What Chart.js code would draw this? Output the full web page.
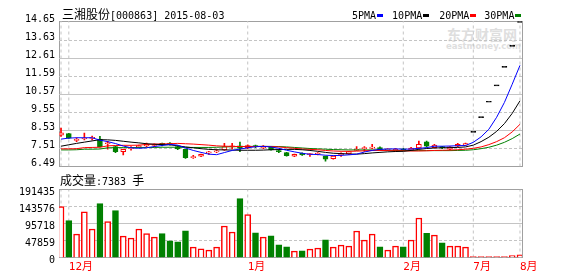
<!DOCTYPE html>
<html><head><meta charset="utf-8">
<script src="https://cdn.jsdelivr.net/npm/chart.js@4/dist/chart.umd.min.js"></script>
<style>
html,body{margin:0;padding:0;background:#fff;width:578px;height:276px;overflow:hidden;position:relative;}
.abs{position:absolute;white-space:nowrap;line-height:12px;}
.cjk{font-family:'Noto Sans CJK SC';font-size:12px;}
.mono{font-family:'DejaVu Sans Mono';font-size:10px;}
canvas{position:absolute;left:0;top:0;}
.sw{display:inline-block;width:6px;height:3px;vertical-align:middle;margin-left:1px;margin-right:10px;}
</style></head><body>
<div class="abs" style="left:447px;top:27px;font:bold 14px 'Noto Sans CJK SC';color:#dedede;line-height:14px;">东方财富网</div>
<div class="abs" style="left:446px;top:42px;font:bold 8.5px 'DejaVu Sans';color:#dedede;line-height:9px;">eastmoney.com</div>
<canvas id="price" width="578" height="276"></canvas>
<canvas id="vol" width="578" height="276"></canvas>
<div class="abs" style="left:62px;top:8px;"><span class="cjk">三湘股份</span><span class="mono">[000863] 2015-08-03</span></div>
<div class="abs" style="left:352px;top:8px;">
<span class="mono">5PMA</span><span class="sw" style="background:#0000ff;margin-right:9px"></span><span class="mono">10PMA</span><span class="sw" style="background:#000"></span><span class="mono">20PMA</span><span class="sw" style="background:#ff0000;margin-right:8px"></span><span class="mono">30PMA</span><span class="sw" style="background:#008000"></span>
</div>
<div class="abs" style="left:60px;top:174px;"><span class="cjk">成交量</span><span class="mono">:7383 </span><span class="cjk">手</span></div>
<script>
const priceTicks = [6.49, 7.51, 8.53, 9.55, 10.57, 11.59, 12.61, 13.63, 14.65];
const volumeTicks = [0, 47859, 95718, 143576, 191435];
const monthTickIdx = [0, 1, 24, 44, 53, 59];
const monthTickLabels = ['', '12月', '1月', '2月', '7月', '8月'];

const openP = [8.27,8.35,7.97,8.05,8.08,8.05,7.78,7.62,7.33,7.50,
7.62,7.66,7.68,7.76,7.80,7.62,7.47,6.99,7.08,7.26,
7.32,7.43,7.60,7.66,7.56,7.66,7.55,7.58,7.35,7.28,
7.08,7.24,7.16,7.20,7.08,6.93,7.16,7.20,7.40,7.50,
7.53,7.56,7.42,7.37,7.48,7.41,7.54,7.89,7.56,7.58,
7.47,7.64,7.70,8.42,9.26,10.13,11.06,12.11,13.30,14.65];
const highP = [8.67,8.37,8.12,8.39,8.22,8.20,7.92,7.65,7.48,7.62,
7.70,7.82,7.78,7.82,7.84,7.66,7.47,7.12,7.20,7.35,
7.45,7.81,7.80,7.88,7.72,7.70,7.68,7.62,7.45,7.30,
7.20,7.26,7.24,7.28,7.08,7.10,7.26,7.35,7.62,7.62,
7.75,7.60,7.50,7.50,7.52,7.58,7.93,7.93,7.74,7.64,
7.62,7.80,7.82,8.42,9.26,10.13,11.06,12.11,13.30,14.65];
const lowP = [8.20,8.08,7.90,8.00,8.00,7.60,7.47,7.28,7.14,7.42,
7.55,7.62,7.60,7.66,7.70,7.45,6.95,6.95,7.05,7.18,
7.28,7.40,7.48,7.33,7.50,7.55,7.50,7.42,7.28,7.08,
7.05,7.12,7.06,7.15,6.79,6.90,7.06,7.18,7.38,7.35,
7.50,7.43,7.38,7.35,7.38,7.39,7.50,7.58,7.54,7.50,
7.45,7.62,7.68,8.42,9.26,10.13,11.06,12.11,13.30,14.65];
const closeP = [8.40,8.10,8.00,8.08,8.11,7.62,7.82,7.33,7.47,7.53,
7.66,7.75,7.72,7.74,7.76,7.48,6.99,7.01,7.18,7.29,
7.34,7.62,7.62,7.52,7.68,7.62,7.58,7.43,7.33,7.10,
7.18,7.14,7.18,7.23,6.91,7.08,7.18,7.33,7.43,7.52,
7.56,7.44,7.45,7.48,7.40,7.54,7.74,7.64,7.70,7.56,
7.60,7.75,7.79,8.42,9.26,10.13,11.06,12.11,13.30,14.65];

const ma5 = [8.04,8.10,8.12,8.12,8.12,7.98,7.90,7.79,7.65,7.55,
7.52,7.55,7.62,7.68,7.74,7.70,7.54,7.40,7.29,7.19,
7.16,7.28,7.40,7.48,7.55,7.61,7.63,7.60,7.52,7.41,
7.32,7.24,7.18,7.17,7.13,7.11,7.12,7.15,7.19,7.31,
7.40,7.46,7.48,7.49,7.47,7.48,7.52,7.56,7.64,7.64,
7.65,7.67,7.68,7.86,8.17,8.60,9.28,10.12,11.15,12.22];
const ma10 = [7.64,7.72,7.80,7.87,7.94,8.01,8.00,7.97,7.92,7.87,
7.83,7.78,7.75,7.73,7.72,7.66,7.60,7.55,7.50,7.46,
7.44,7.43,7.42,7.41,7.41,7.41,7.42,7.44,7.45,7.46,
7.46,7.44,7.40,7.35,7.29,7.24,7.22,7.20,7.19,7.22,
7.26,7.29,7.32,7.34,7.35,7.40,7.46,7.51,7.54,7.55,
7.56,7.57,7.60,7.70,7.90,8.15,8.48,8.92,9.50,10.21];
const ma20 = [7.49,7.49,7.50,7.56,7.57,7.58,7.66,7.68,7.69,7.69,
7.70,7.74,7.76,7.77,7.78,7.80,7.78,7.76,7.73,7.70,
7.66,7.64,7.63,7.62,7.62,7.62,7.63,7.62,7.60,7.56,
7.52,7.48,7.46,7.44,7.40,7.37,7.35,7.35,7.36,7.38,
7.40,7.40,7.39,7.38,7.38,7.37,7.37,7.38,7.40,7.41,
7.42,7.44,7.47,7.52,7.60,7.73,7.90,8.12,8.45,8.88];
const ma30 = [7.43,7.43,7.44,7.47,7.47,7.48,7.55,7.56,7.56,7.56,
7.57,7.57,7.57,7.58,7.58,7.58,7.57,7.57,7.57,7.57,
7.58,7.60,7.61,7.62,7.63,7.63,7.63,7.63,7.62,7.60,
7.57,7.54,7.51,7.49,7.47,7.45,7.44,7.43,7.43,7.43,
7.43,7.42,7.41,7.40,7.39,7.39,7.39,7.39,7.39,7.39,
7.39,7.40,7.41,7.44,7.50,7.58,7.70,7.86,8.07,8.33];

const volume = [143300,103700,66000,128300,80200,151800,100900,132000,60400,54700,
80200,67000,57500,67000,47200,44300,75400,29200,24500,20700,
29200,88600,71700,166000,120700,69800,57500,61300,35800,30200,
17900,18900,23600,26400,50000,29200,34900,32100,74500,49000,
66000,30200,20700,32100,30200,49000,111300,67900,63200,41500,
32100,32100,29200,1500,1200,1100,1300,1600,5600,7383];

const RED = '#ff0000', GREEN = '#008000', BORDER = '#a0a0a0', GRID = '#c4c4c4';
const n = closeP.length;
const idx = [...Array(n).keys()];
const isUp = i => closeP[i] >= openP[i];
const onePrice = i => highP[i] === lowP[i];
const XMIN = -0.26, XMAX = n - 1 + 0.26;
const PMIN = 6.49, PMAX = 14.735;
const VMIN = 0, VMAX = 191435;

// guide lines (horizontal value levels and month separators), drawn through the chart's scales
const hGuides = (ticks, solidParity) => ticks.slice(1, -1).map((v, k) => ({
  type: 'line', data: [{x: XMIN, y: v}, {x: XMAX, y: v}],
  borderColor: GRID, borderWidth: 1, borderDash: (k % 2 === solidParity) ? [] : [3, 2],
  pointRadius: 0, order: 20
}));
const vGuides = (lo, hi) => monthTickIdx.map(m => ({
  type: 'line', data: [{x: m, y: lo}, {x: m, y: hi}],
  borderColor: GRID, borderWidth: 1, borderDash: [3, 3], pointRadius: 0, order: 21
}));

const xAxisBase = (showLabels, h) => ({
  type: 'linear', position: 'bottom', min: XMIN, max: XMAX, offset: false,
  afterBuildTicks: s => { s.ticks = monthTickIdx.map(v => ({value: v})); },
  afterFit: s => { s.height = h; },
  ticks: {
    display: showLabels, autoSkip: false, maxRotation: 0, align: 'start', padding: 3,
    color: RED, font: {family: "'DejaVu Sans Mono', 'Noto Sans CJK SC'", size: 11},
    callback: v => { const k = monthTickIdx.indexOf(v); return k >= 0 ? monthTickLabels[k] : ''; }
  },
  grid: { display: false, drawTicks: false, offset: false },
  border: { display: true, color: BORDER }
});
const makeTopAxis = () => ({
  type: 'linear', position: 'top', min: XMIN, max: XMAX, offset: false,
  afterFit: s => { s.height = 0; },
  ticks: { display: false }, grid: { display: false, drawTicks: false },
  border: { display: true, color: BORDER }
});
const makeRightAxis = () => ({
  type: 'linear', position: 'right', min: 0, max: 1,
  afterFit: s => { s.width = 0; },
  ticks: { display: false }, grid: { display: false, drawTicks: false },
  border: { display: true, color: BORDER }
});
const lineDs = (label, arr, color, order) => ({
  type: 'line', label, data: arr.map((v, i) => ({x: i, y: v})),
  borderColor: color, borderWidth: 1, pointRadius: 0, tension: 0, order
});

new Chart(document.getElementById('price'), {
  type: 'bar',
  data: {
    datasets: [
      lineDs('5PMA', ma5, '#0000ff', 0),
      lineDs('10PMA', ma10, '#000000', 1),
      lineDs('20PMA', ma20, RED, 2),
      lineDs('30PMA', ma30, GREEN, 3),
      {
        label: 'body', order: 5, grouped: false, barThickness: 5, minBarLength: 1,
        data: idx.map(i => ({x: i, y: [openP[i], closeP[i]]})),
        backgroundColor: idx.map(i => onePrice(i) ? '#000' : (isUp(i) ? '#ffffff' : GREEN)),
        borderColor: idx.map(i => onePrice(i) ? '#000' : (isUp(i) ? RED : GREEN)),
        borderWidth: 1, borderSkipped: false
      },
      {
        label: 'wick', order: 6, grouped: false, barThickness: 1,
        data: idx.filter(i => !onePrice(i)).map(i => ({x: i, y: [lowP[i], highP[i]]})),
        backgroundColor: idx.filter(i => !onePrice(i)).map(i => isUp(i) ? RED : GREEN), borderWidth: 0
      },
      ...hGuides(priceTicks, 1),
      ...vGuides(PMIN, PMAX)
    ]
  },
  options: {
    responsive: false, animation: false, devicePixelRatio: 1,
    layout: { padding: {left: 0, top: 21, right: 56, bottom: 109.5} },
    plugins: { legend: {display: false}, tooltip: {enabled: false} },
    scales: {
      x: xAxisBase(false, 0),
      xTop: makeTopAxis(),
      y: {
        type: 'linear', position: 'left', min: PMIN, max: PMAX,
        afterBuildTicks: s => { s.ticks = priceTicks.map(v => ({value: v})); },
        afterFit: s => { s.width = 59; },
        ticks: { font: {family: 'DejaVu Sans Mono', size: 10}, color: '#000', padding: 4, labelOffset: -3, callback: v => v.toFixed(2) },
        grid: { display: false, drawTicks: false },
        border: { display: true, color: BORDER }
      },
      yRight: makeRightAxis()
    }
  }
});

new Chart(document.getElementById('vol'), {
  type: 'bar',
  data: {
    datasets: [
      {
        label: 'volume', order: 1, grouped: false, barThickness: 6, minBarLength: 1,
        data: idx.map(i => ({x: i, y: volume[i]})),
        backgroundColor: idx.map(i => isUp(i) ? '#ffffff' : GREEN),
        borderColor: idx.map(i => isUp(i) ? RED : GREEN),
        borderWidth: 1.5, borderSkipped: 'start'
      },
      ...hGuides(volumeTicks, 1),
      ...vGuides(VMIN, VMAX)
    ]
  },
  options: {
    responsive: false, animation: false, devicePixelRatio: 1,
    layout: { padding: {left: 0, top: 189.5, right: 56, bottom: 0} },
    plugins: { legend: {display: false}, tooltip: {enabled: false} },
    scales: {
      x: xAxisBase(true, 18.5),
      xTop: makeTopAxis(),
      y: {
        type: 'linear', position: 'left', min: VMIN, max: VMAX,
        afterBuildTicks: s => { s.ticks = volumeTicks.map(v => ({value: v})); },
        afterFit: s => { s.width = 59; },
        ticks: { font: {family: 'DejaVu Sans Mono', size: 10}, color: '#000', padding: 4, labelOffset: 3, callback: v => String(v) },
        grid: { display: false, drawTicks: false },
        border: { display: true, color: BORDER }
      },
      yRight: makeRightAxis()
    }
  }
});
</script>
</body></html>
